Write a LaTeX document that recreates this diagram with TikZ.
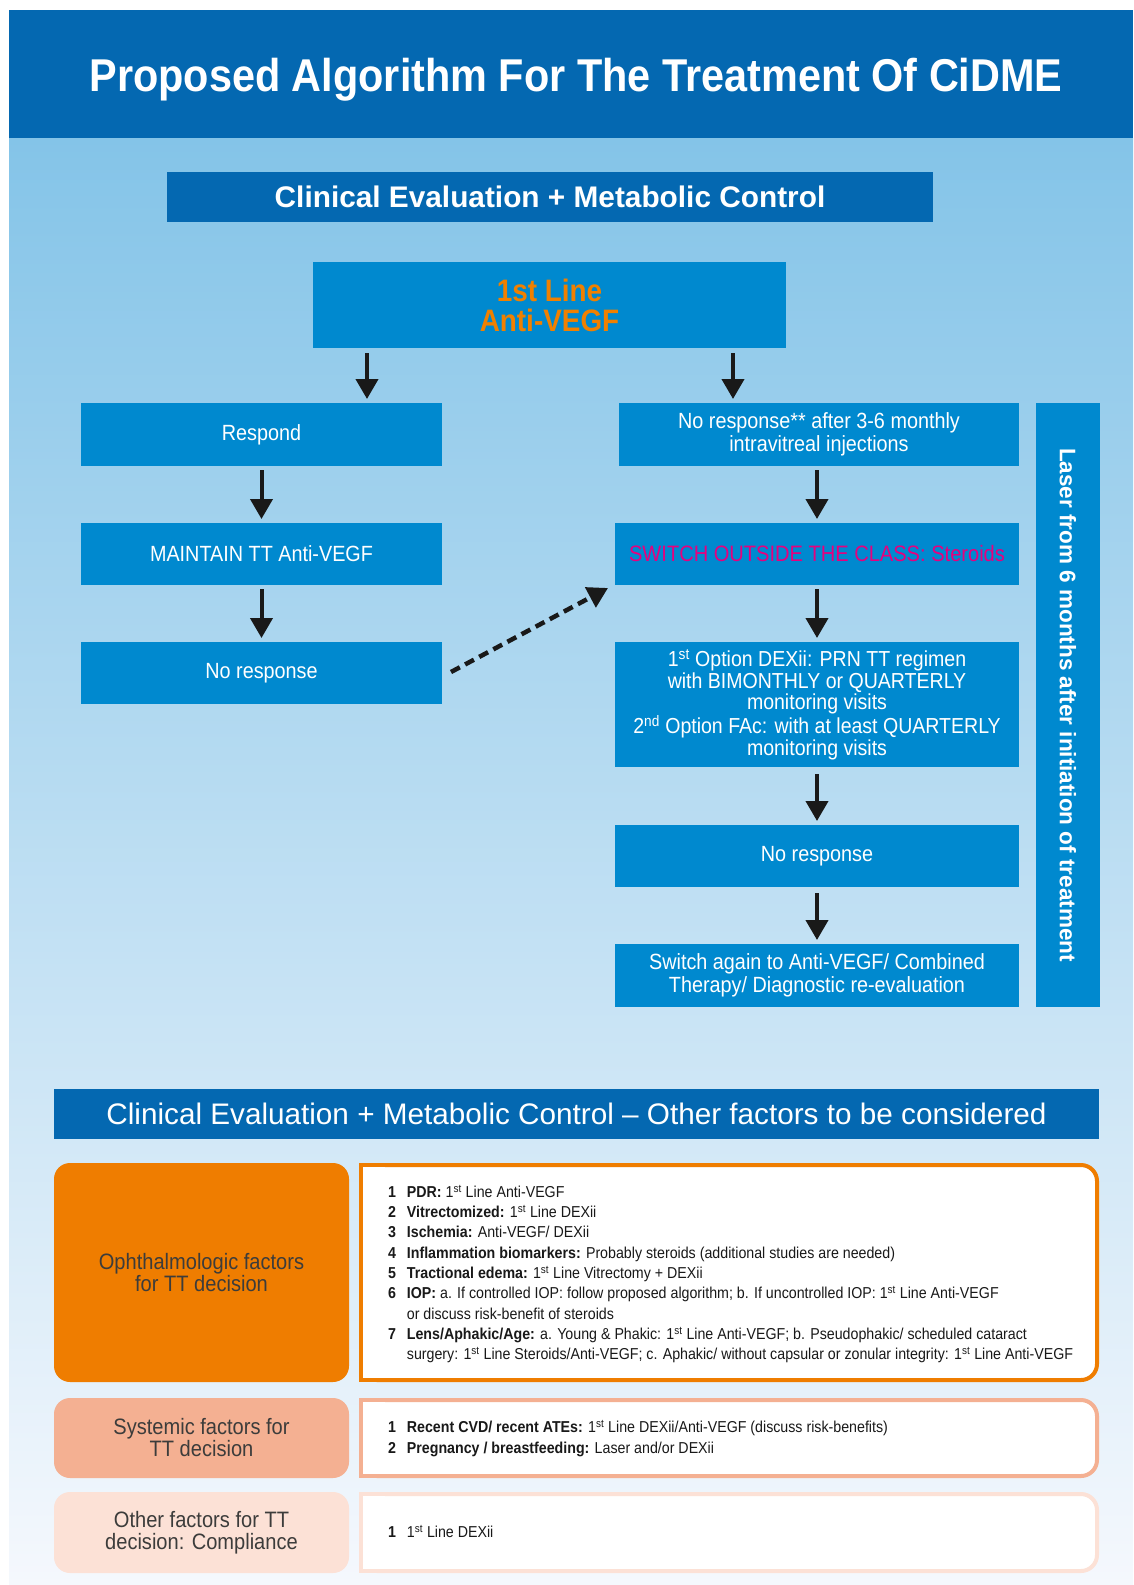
\documentclass[tikz,border=0pt]{standalone}
\usepackage{fontspec}
\setmainfont{Liberation Sans}
\newfontfamily\cond[FakeStretch=0.9]{Liberation Sans}
\usetikzlibrary{arrows.meta,calc}
\definecolor{hdrblue}{HTML}{0468B1}
\definecolor{boxblue}{HTML}{0089CF}
\definecolor{bgtop}{HTML}{84C4E8}
\definecolor{bgmid}{HTML}{CFE5F5}
\definecolor{bgbot}{HTML}{F5F8FD}
\definecolor{orangetxt}{HTML}{F08000}
\definecolor{magtxt}{HTML}{E6007E}
\definecolor{ofor}{HTML}{EF7D00}
\definecolor{ofsal}{HTML}{F4B092}
\definecolor{ofpink}{HTML}{FCE1D6}
\definecolor{graytxt}{HTML}{3C3C3B}
\begin{document}
\begin{tikzpicture}[x=1pt,y=-1pt,
 every node/.style={inner sep=0pt, outer sep=0pt},
 bluebox/.style={fill=boxblue, text=white, align=center, font=\cond\fontsize{22}{22.5}\selectfont},
 darkbox/.style={fill=hdrblue, text=white, align=center},
 arr/.style={draw=black!90, line width=4pt, -{Triangle[width=22pt,length=20pt]}},
 dasharr/.style={draw=black!90, line width=4.5pt, dash pattern=on 10pt off 6pt, -{Triangle[width=22pt,length=20pt]}},
 factor/.style={rounded corners=16pt, text=graytxt, align=center, font=\cond\fontsize{22.3}{22}\selectfont, minimum width=295pt},
 framebox/.style={line width=4pt, rounded corners=16pt, fill=white, minimum width=736pt},
 sqleft/.style={fill=white, line width=4pt, line join=miter},
 listtext/.style={anchor=west, text=black!90, font=\cond\fontsize{15.8}{20.3}\selectfont, align=left},
]
\useasboundingbox (0,0) rectangle (1133,1585);
\fill[white] (0,0) rectangle (1133,1585);
\shade[top color=bgtop, middle color=bgmid, bottom color=bgbot] (9,138) rectangle (1133,1585);
\fill[hdrblue] (9,10) rectangle (1133,138);
\node[text=white, font=\cond\bfseries\fontsize{46}{48}\selectfont, anchor=base] (title) at (576,91) {Proposed Algorithm For The Treatment Of CiDME};

\node[darkbox, minimum width=766pt, minimum height=50pt, font=\bfseries\fontsize{29.8}{30}\selectfont] (cemc) at (550,197) {Clinical Evaluation + Metabolic Control};
\node[bluebox, minimum width=473pt, minimum height=86pt, text=orangetxt, font=\cond\bfseries\fontsize{31}{30}\selectfont] (first) at (549.5,305) {1st Line\\Anti-VEGF};

% left column
\node[bluebox, minimum width=361pt, minimum height=63pt] (resp) at (261.5,434.5) {Respond};
\node[bluebox, minimum width=361pt, minimum height=62pt] (maint) at (261.5,554) {MAINTAIN TT Anti-VEGF};
\node[bluebox, minimum width=361pt, minimum height=62pt] (nrl) at (261.5,673) {No response};

% right column
\node[bluebox, minimum width=400pt, minimum height=63pt] (nrr1) at (819,434.5) {No response** after 3-6 monthly\\intravitreal injections};
\node[bluebox, minimum width=404pt, minimum height=62pt, text=magtxt, font=\cond\fontsize{22.3}{22.5}\selectfont] (sw) at (817,554) {SWITCH OUTSIDE THE CLASS: Steroids};
\node[bluebox, minimum width=404pt, minimum height=125pt, font=\cond\fontsize{21.7}{21.5}\selectfont] (opt) at (817,704.5) {1\textsuperscript{st} Option DEXii: PRN TT regimen\\with BIMONTHLY or QUARTERLY\\monitoring visits\\2\textsuperscript{nd} Option FAc: with at least QUARTERLY\\monitoring visits};
\node[bluebox, minimum width=404pt, minimum height=62pt] (nrr2) at (817,856) {No response};
\node[bluebox, minimum width=404pt, minimum height=63pt] (again) at (817,975.5) {Switch again to Anti-VEGF/ Combined\\Therapy/ Diagnostic re-evaluation};
\node[bluebox, rotate=-90, minimum width=604pt, minimum height=64pt, font=\bfseries\fontsize{22.5}{24}\selectfont] (laser) at (1068,705) {Laser from 6 months after initiation of treatment};

% arrows
\coordinate (ax1) at (367,0);
\coordinate (ax2) at (733,0);
\coordinate (ax3) at (817,0);
\draw[arr] ($(first.south -| ax1)+(0,5)$) -- ($(resp.north -| ax1)+(0,-4)$);
\draw[arr] ($(first.south -| ax2)+(0,5)$) -- ($(nrr1.north -| ax2)+(0,-4)$);
\draw[arr] ($(resp.south)+(0,4)$) -- ($(maint.north)+(0,-4)$);
\draw[arr] ($(maint.south)+(0,4)$) -- ($(nrl.north)+(0,-4)$);
\draw[arr] ($(nrr1.south -| ax3)+(0,4)$) -- ($(sw.north)+(0,-4)$);
\draw[arr] ($(sw.south)+(0,4)$) -- ($(opt.north)+(0,-4)$);
\draw[arr] ($(opt.south)+(0,7)$) -- ($(nrr2.north)+(0,-4)$);
\draw[arr] ($(nrr2.south)+(0,6)$) -- ($(again.north)+(0,-4)$);
\draw[dasharr] ($(nrl.east)+(9,-1)$) -- ($(sw.south west)+(-7,3)$);

% bottom section
\node[darkbox, minimum width=1045pt, minimum height=50pt, font=\fontsize{29.7}{30}\selectfont] (bar) at (576.5,1114) {Clinical Evaluation + Metabolic Control – Other factors to be considered};

\node[factor, fill=ofor, minimum height=219pt] (of1) at (201.5,1272.5) {Ophthalmologic factors\\for TT decision};
\node[factor, fill=ofsal, minimum height=80pt] (of2) at (201.5,1438) {Systemic factors for\\TT decision};
\node[factor, fill=ofpink, minimum height=81pt] (of3) at (201.5,1532.5) {Other factors for TT\\decision: Compliance};

\node[framebox, draw=ofor, minimum height=215pt] (rf1) at (729,1272.5) {};
\filldraw[sqleft, draw=ofor] ($(rf1.north west)+(24,0)$) -- (rf1.north west) -- (rf1.south west) -- ($(rf1.south west)+(24,0)$);
\node[framebox, draw=ofsal, minimum height=76pt] (rf2) at (729,1438) {};
\filldraw[sqleft, draw=ofsal] ($(rf2.north west)+(24,0)$) -- (rf2.north west) -- (rf2.south west) -- ($(rf2.south west)+(24,0)$);
\node[framebox, draw=ofpink, minimum height=77pt] (rf3) at (729,1532.5) {};
\filldraw[sqleft, draw=ofpink] ($(rf3.north west)+(24,0)$) -- (rf3.north west) -- (rf3.south west) -- ($(rf3.south west)+(24,0)$);

\node[listtext] (l1) at ($(rf1.west)+(27,2)$) {\begin{tabular}{@{}l@{\hspace{11pt}}l@{}}
\textbf{1} & \textbf{PDR:} 1\textsuperscript{st} Line Anti-VEGF\\
\textbf{2} & \textbf{Vitrectomized:} 1\textsuperscript{st} Line DEXii\\
\textbf{3} & \textbf{Ischemia:} Anti-VEGF/ DEXii\\
\textbf{4} & \textbf{Inflammation biomarkers:} Probably steroids (additional studies are needed)\\
\textbf{5} & \textbf{Tractional edema:} 1\textsuperscript{st} Line Vitrectomy + DEXii\\
\textbf{6} & \textbf{IOP:} a. If controlled IOP: follow proposed algorithm; b. If uncontrolled IOP: 1\textsuperscript{st} Line Anti-VEGF\\
 & or discuss risk-benefit of steroids\\
\textbf{7} & \textbf{Lens/Aphakic/Age:} a. Young \& Phakic: 1\textsuperscript{st} Line Anti-VEGF; b. Pseudophakic/ scheduled cataract\\
 & surgery: 1\textsuperscript{st} Line Steroids/Anti-VEGF; c. Aphakic/ without capsular or zonular integrity: 1\textsuperscript{st} Line Anti-VEGF
\end{tabular}};
\node[listtext] (l2) at ($(rf2.west)+(27,1)$) {\begin{tabular}{@{}l@{\hspace{11pt}}l@{}}
\textbf{1} & \textbf{Recent CVD/ recent ATEs:} 1\textsuperscript{st} Line DEXii/Anti-VEGF (discuss risk-benefits)\\
\textbf{2} & \textbf{Pregnancy / breastfeeding:} Laser and/or DEXii
\end{tabular}};
\node[listtext] (l3) at ($(rf3.west)+(27,1)$) {\begin{tabular}{@{}l@{\hspace{11pt}}l@{}}
\textbf{1} & 1\textsuperscript{st} Line DEXii
\end{tabular}};
\end{tikzpicture}
\end{document}
